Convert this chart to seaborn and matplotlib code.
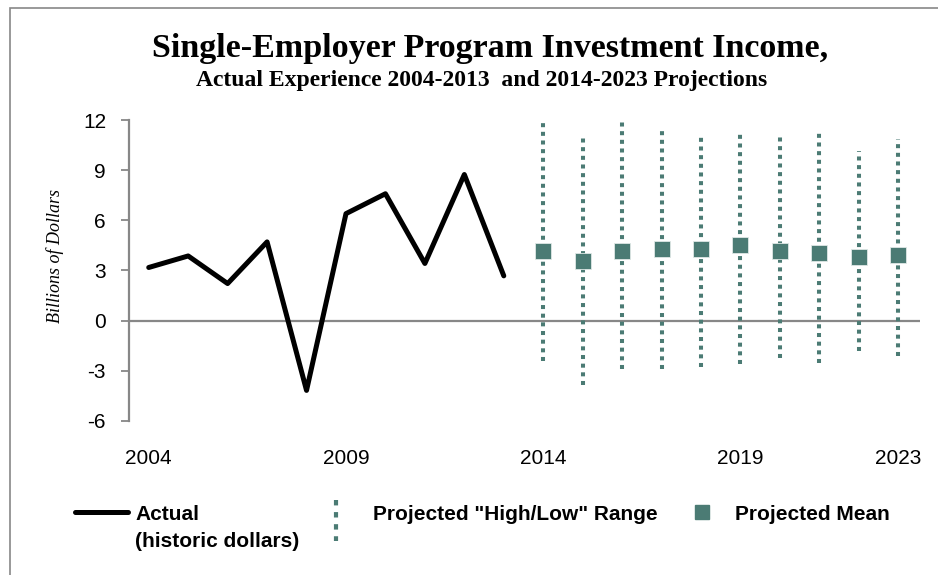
import matplotlib
matplotlib.use("Agg")
import matplotlib.pyplot as plt
from matplotlib.lines import Line2D
from matplotlib.patches import Rectangle
import seaborn as sns
import pandas as pd

# valeurs (milliards de dollars)
annees_reel = [2004, 2005, 2006, 2007, 2008, 2009, 2010, 2011, 2012, 2013]
revenu_reel = [3.18, 3.87, 2.22, 4.71, -4.17, 6.40, 7.59, 3.42, 8.74, 2.68]

annees_proj = [2014, 2015, 2016, 2017, 2018, 2019, 2020, 2021, 2022, 2023]
proj_moyenne = [4.17, 3.58, 4.17, 4.27, 4.27, 4.51, 4.17, 4.03, 3.81, 3.93]
proj_haut = [11.82, 11.03, 11.96, 11.48, 11.12, 11.22, 11.12, 11.36, 10.17, 10.89]
proj_bas = [-2.42, -3.87, -2.88, -2.88, -2.78, -2.58, -2.22, -2.54, -1.83, -2.09]

ticks_x = [2004, 2009, 2014, 2019, 2023]
ticks_y = [-6, -3, 0, 3, 6, 9, 12]

titre = "Single-Employer Program Investment Income,"
sous_titre = "Actual Experience 2004-2013  and 2014-2023 Projections"

vert = "#4b7b74"
gris = "#878787"
W, H = 938, 575


def px(x, y):
    # pixels (origine en haut a gauche) -> coordonnees figure
    return x / W, 1 - y / H


sns.set_style("white")
plt.rcParams["font.family"] = ["Liberation Sans", "DejaVu Sans"]
plt.rcParams["text.color"] = "black"
plt.rcParams["xtick.color"] = "black"
plt.rcParams["ytick.color"] = "black"
plt.rcParams["axes.unicode_minus"] = False

df_reel = pd.DataFrame({"annee": annees_reel, "valeur": revenu_reel})
df_proj = pd.DataFrame({"annee": annees_proj, "moyenne": proj_moyenne,
                        "haut": proj_haut, "bas": proj_bas})

fig = plt.figure(figsize=(W / 100, H / 100), dpi=100)
ax = fig.add_axes([129 / W, 1 - 421 / H, (920 - 129) / W, (421 - 120) / H])

ax.axhline(0, color=gris, lw=1.6, zorder=1)

ax.vlines(df_proj["annee"], df_proj["bas"], df_proj["haut"], colors=vert,
          linewidth=2.9, linestyles=(0, (1.0, 1.15)), zorder=2)
sns.lineplot(data=df_reel, x="annee", y="valeur", ax=ax, color="black",
             lw=3.6, zorder=3)
sns.scatterplot(data=df_proj, x="annee", y="moyenne", ax=ax, marker="s",
                s=140, color=vert, edgecolor="#dfe8e6", linewidth=0.6, zorder=4)

ax.set_xlim(2003.5, 2023.55)
ax.set_ylim(-6, 12)
ax.set_xticks(ticks_x)
ax.set_yticks(ticks_y)
ax.tick_params(axis="x", length=0, pad=20, labelsize=15)
ax.tick_params(axis="y", length=5.5, width=1.3, color=gris, pad=11,
               labelsize=15, left=True, labelcolor="black")
for cote in ["top", "right", "bottom"]:
    ax.spines[cote].set_visible(False)
ax.spines["left"].set_color(gris)
ax.spines["left"].set_linewidth(1.6)
ax.set_xlabel("")
ax.set_ylabel("")

fig.text(*px(55, 256), "Billions of Dollars", rotation=90, ha="center",
         va="center", fontsize=13, style="italic", family="Liberation Serif")

fig.text(*px(490, 57), titre, ha="center", va="baseline", fontsize=24.5,
         fontweight="bold", family="Liberation Serif")
fig.text(*px(482, 86), sous_titre, ha="center", va="baseline", fontsize=17,
         fontweight="bold", family="Liberation Serif")

# legende dessinee a la main sous le graphique
fig.add_artist(Line2D([px(75, 0)[0], px(128, 0)[0]], [px(0, 512)[1]] * 2,
                      transform=fig.transFigure, color="black", lw=3.6,
                      solid_capstyle="round"))
fig.text(*px(135, 520), "Actual", fontsize=15, fontweight="bold", va="baseline")
fig.text(*px(135, 547), "(historic dollars)", fontsize=15, fontweight="bold",
         va="baseline")

fig.add_artist(Line2D([px(336, 0)[0]] * 2, [px(0, 500)[1], px(0, 541)[1]],
                      transform=fig.transFigure, color=vert, lw=3,
                      linestyle=(0, (1.3, 1.6))))
fig.text(*px(373, 520), 'Projected "High/Low" Range', fontsize=15,
         fontweight="bold", va="baseline")

fig.add_artist(Line2D([px(702, 0)[0]], [px(0, 512)[1]], transform=fig.transFigure,
                      marker="s", markersize=9.5, color=vert, lw=0))
fig.text(*px(735, 520), "Projected Mean", fontsize=15, fontweight="bold",
         va="baseline")

fig.add_artist(Rectangle(px(9.5, 600), (940 - 9.5) / W, (600 - 7.5) / H,
                         transform=fig.transFigure, fill=False, edgecolor=gris,
                         lw=1.2))

fig.savefig("out.png", dpi=100)
